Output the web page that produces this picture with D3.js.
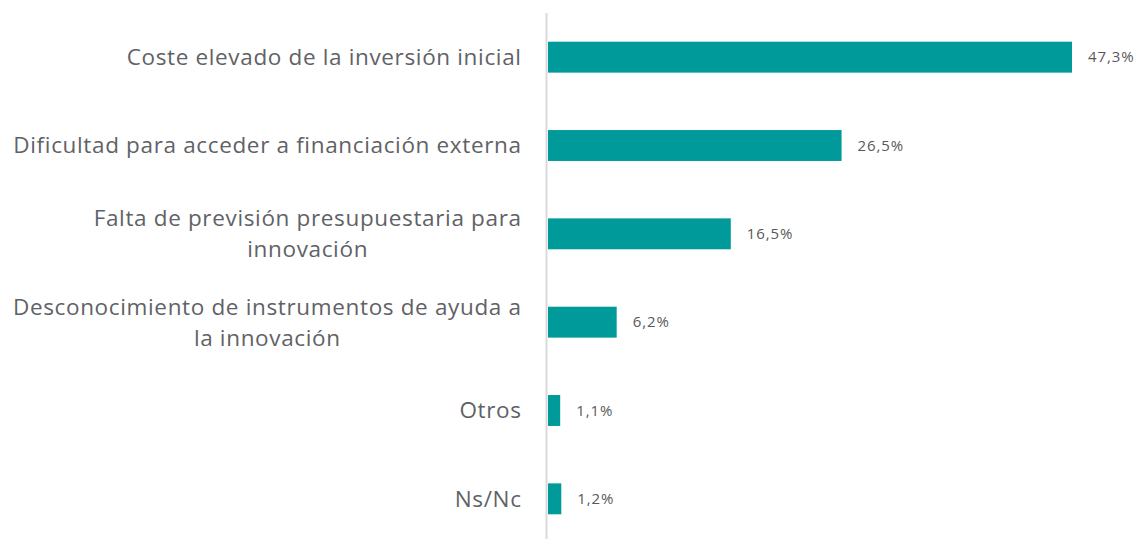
<head>
    <script src="https://cdn.jsdelivr.net/npm/d3@7/dist/d3.min.js"></script>
    <style>
        body { margin: 0; background: #fff; }
        text { font-family: "Open Sans", Lato, sans-serif; }
    </style>
</head>

<body>
    <div id="chart"></div>
</body>

<script>
    // datos
    const categorias = [
        ["Coste elevado de la inversión inicial"],
        ["Dificultad para acceder a financiación externa"],
        ["Falta de previsión presupuestaria para", "innovación"],
        ["Desconocimiento de instrumentos de ayuda a", "la innovación"],
        ["Otros"],
        ["Ns/Nc"]
    ];
    const valores = [47.3, 26.5, 16.5, 6.2, 1.1, 1.2];
    const etiquetas = ["47,3%", "26,5%", "16,5%", "6,2%", "1,1%", "1,2%"];

    const W = 1138, H = 539;
    const x0 = 548;

    const svg = d3.select("#chart").append("svg")
        .attr("width", W)
        .attr("height", H);

    const y = d3.scaleBand()
        .domain(d3.range(valores.length))
        .range([13, 543])
        .paddingInner(0.65)
        .paddingOuter(0.325);

    const x = d3.scaleLinear()
        .domain([0, 47.3])
        .range([x0, 1072]);

    // barras
    svg.selectAll("rect.bar")
        .data(valores)
        .enter()
        .append("rect")
        .attr("class", "bar")
        .attr("x", x(0))
        .attr("y", (d, i) => y(i))
        .attr("width", d => x(d) - x(0))
        .attr("height", y.bandwidth())
        .attr("fill", "#009a9a");

    // eje vertical
    svg.append("line")
        .attr("x1", x0 - 1.5).attr("x2", x0 - 1.5)
        .attr("y1", 13).attr("y2", H)
        .attr("stroke", "#d9d9d9")
        .attr("stroke-width", 2);

    // valores
    svg.selectAll("text.val")
        .data(valores)
        .enter()
        .append("text")
        .attr("class", "val")
        .attr("x", d => x(d) + 16)
        .attr("y", (d, i) => y(i) + y.bandwidth() / 2)
        .attr("dy", "0.35em")
        .attr("font-size", 15)
        .attr("letter-spacing", 0.9)
        .attr("fill", "#595959")
        .text((d, i) => etiquetas[i]);

    // categorías (líneas centradas entre sí, alineadas a la derecha)
    const lineH = 31;
    const ls = 0.65;
    categorias.forEach((lineas, i) => {
        const cy = y(i) + y.bandwidth() / 2;
        const g = svg.append("g");
        const t = g.selectAll("text")
            .data(lineas)
            .enter()
            .append("text")
            .attr("font-size", 22.5)
            .attr("letter-spacing", ls)
            .attr("fill", "#5f6266")
            .attr("dy", "0.35em")
            .attr("y", (d, j) => cy + (j - (lineas.length - 1) / 2) * lineH)
            .text(d => d);
        const anchos = t.nodes().map(n => n.getComputedTextLength());
        const maxW = d3.max(anchos);
        t.attr("x", 521 + ls - maxW / 2).attr("text-anchor", "middle");
    });
</script>
